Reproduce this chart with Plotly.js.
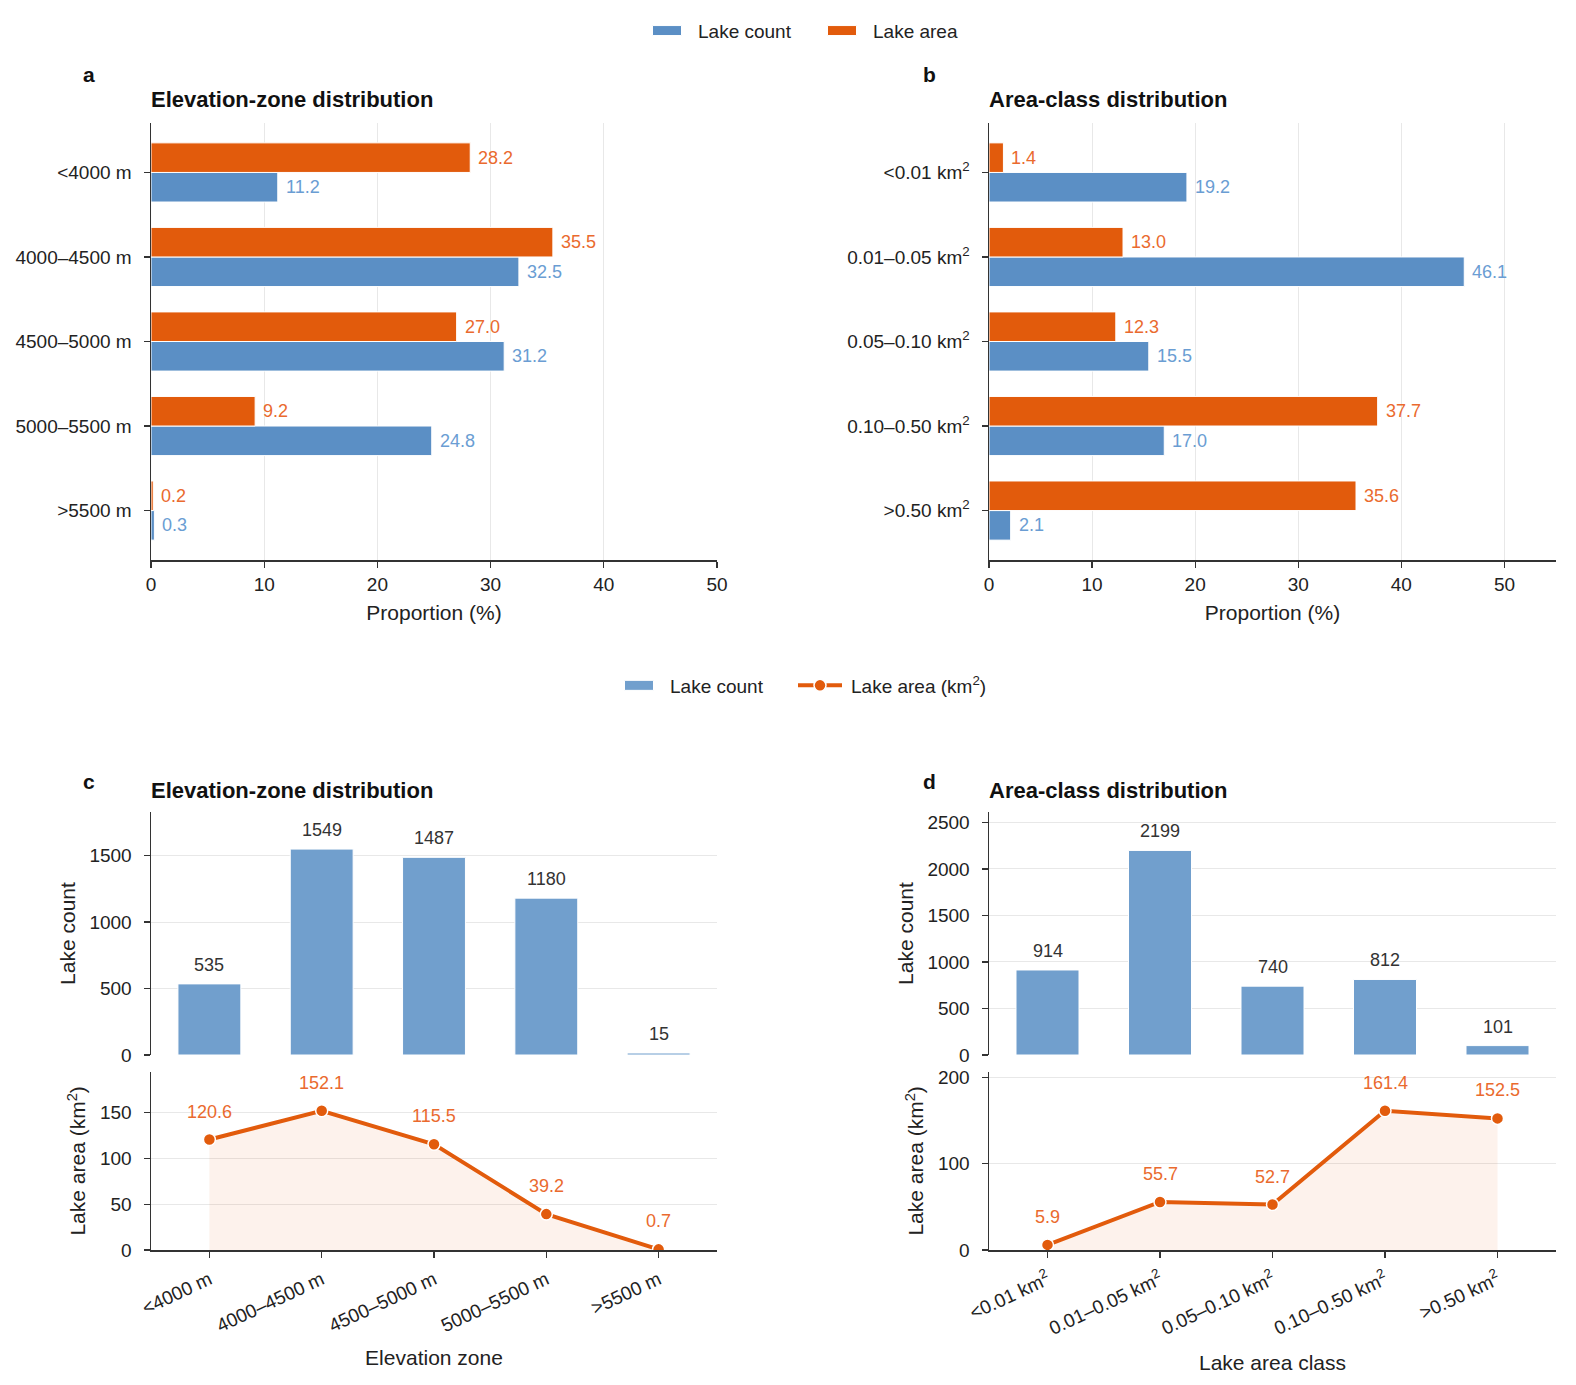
<!DOCTYPE html>
<html>
<head>
<meta charset="utf-8">
<script src="https://cdn.plot.ly/plotly-3.0.1.min.js"></script>
<style>html,body{margin:0;padding:0;background:#fff;}#chart{width:1576px;height:1385px;}</style>
</head>
<body>
<div id="chart"></div>
<script>
// ---- data ----
const elevZones = ['<4000 m', '4000–4500 m', '4500–5000 m', '5000–5500 m', '>5500 m'];
const areaClasses = ['<0.01 km<sup>2</sup>', '0.01–0.05 km<sup>2</sup>', '0.05–0.10 km<sup>2</sup>', '0.10–0.50 km<sup>2</sup>', '>0.50 km<sup>2</sup>'];
const elevCountPct = [11.2, 32.5, 31.2, 24.8, 0.3];
const elevAreaPct = [28.2, 35.5, 27.0, 9.2, 0.2];
const classCountPct = [19.2, 46.1, 15.5, 17.0, 2.1];
const classAreaPct = [1.4, 13.0, 12.3, 37.7, 35.6];
const elevCount = [535, 1549, 1487, 1180, 15];
const elevArea = [120.6, 152.1, 115.5, 39.2, 0.7];
const classCount = [914, 2199, 740, 812, 101];
const classArea = [5.9, 55.7, 52.7, 161.4, 152.5];
const pctTicks = [0, 10, 20, 30, 40, 50];

// ---- style ----
const BLUE = '#5b8fc5', BLUE2 = '#719fcd', ORANGE = '#e25b0c';
const BLUE_T = '#6a9dd3', ORANGE_T = '#ea6a2e';
const FONT = 'Liberation Sans, Arial, Helvetica, sans-serif';
const W = 1576, H = 1385;
const dx = (a, b) => [a / W, b / W];
const dy = (t, b) => [1 - b / H, 1 - t / H];

const baseAxis = {
  showline: true, linecolor: '#333', linewidth: 1.5, ticks: 'outside', ticklen: 6,
  tickcolor: '#333', tickwidth: 1.3, zeroline: false, gridcolor: '#e8e8e8', gridwidth: 1,
  tickfont: {size: 19, color: '#222', family: FONT}, ticklabelstandoff: 4
};
function ax(extra) { return Object.assign({}, baseAxis, extra); }

const traces = [];
// panel a
traces.push({type: 'bar', orientation: 'h', y: elevZones, x: elevCountPct, xaxis: 'x', yaxis: 'y',
  name: 'Lake count', marker: {color: BLUE, line: {color: '#fff', width: 1}}, width: 0.35, offset: 0,
  legend: 'legend', hoverinfo: 'x'});
traces.push({type: 'bar', orientation: 'h', y: elevZones, x: elevAreaPct, xaxis: 'x', yaxis: 'y',
  name: 'Lake area', marker: {color: ORANGE, line: {color: '#fff', width: 1}}, width: 0.35, offset: -0.35,
  legend: 'legend', hoverinfo: 'x'});
// panel b
traces.push({type: 'bar', orientation: 'h', y: areaClasses, x: classCountPct, xaxis: 'x2', yaxis: 'y2',
  showlegend: false, marker: {color: BLUE, line: {color: '#fff', width: 1}}, width: 0.35, offset: 0, hoverinfo: 'x'});
traces.push({type: 'bar', orientation: 'h', y: areaClasses, x: classAreaPct, xaxis: 'x2', yaxis: 'y2',
  showlegend: false, marker: {color: ORANGE, line: {color: '#fff', width: 1}}, width: 0.35, offset: -0.35, hoverinfo: 'x'});
// panel c
traces.push({type: 'bar', x: elevZones, y: elevCount, xaxis: 'x3', yaxis: 'y3', name: 'Lake count',
  marker: {color: BLUE2, line: {color: '#fff', width: 1}}, width: 0.56, legend: 'legend2'});
traces.push({type: 'scatter', mode: 'none', x: elevZones, y: elevArea, xaxis: 'x4', yaxis: 'y4',
  fill: 'tozeroy', fillcolor: 'rgba(226,91,12,0.08)', showlegend: false, hoverinfo: 'skip'});
traces.push({type: 'scatter', mode: 'lines+markers', x: elevZones, y: elevArea, xaxis: 'x4', yaxis: 'y4',
  name: 'Lake area (km<sup>2</sup>)', line: {color: ORANGE, width: 4},
  marker: {color: ORANGE, size: 12, line: {color: '#fff', width: 1.5}}, legend: 'legend3'});
// panel d
traces.push({type: 'bar', x: areaClasses, y: classCount, xaxis: 'x5', yaxis: 'y5', showlegend: false,
  marker: {color: BLUE2, line: {color: '#fff', width: 1}}, width: 0.56});
traces.push({type: 'scatter', mode: 'none', x: areaClasses, y: classArea, xaxis: 'x6', yaxis: 'y6',
  fill: 'tozeroy', fillcolor: 'rgba(226,91,12,0.08)', showlegend: false, hoverinfo: 'skip'});
traces.push({type: 'scatter', mode: 'lines+markers', x: areaClasses, y: classArea, xaxis: 'x6', yaxis: 'y6',
  showlegend: false, line: {color: ORANGE, width: 4},
  marker: {color: ORANGE, size: 12, line: {color: '#fff', width: 1.5}}});

const ann = [];
function hLabels(vals, xref, yref, off, color) {
  vals.forEach((v, i) => ann.push({xref: xref, yref: yref, x: v, y: i + off, text: v.toFixed(1),
    showarrow: false, xanchor: 'left', yanchor: 'middle', xshift: 6, font: {size: 18, color: color, family: FONT}}));
}
hLabels(elevCountPct, 'x', 'y', 0.175, BLUE_T);
hLabels(elevAreaPct, 'x', 'y', -0.175, ORANGE_T);
hLabels(classCountPct, 'x2', 'y2', 0.175, BLUE_T);
hLabels(classAreaPct, 'x2', 'y2', -0.175, ORANGE_T);
function vLabels(vals, xref, yref, shift, color, fmt) {
  vals.forEach((v, i) => ann.push({xref: xref, yref: yref, x: i, y: v, text: fmt(v),
    showarrow: false, xanchor: 'center', yanchor: 'middle', yshift: shift, font: {size: 18, color: color, family: FONT}}));
}
vLabels(elevCount, 'x3', 'y3', 19, '#333', v => String(v));
vLabels(classCount, 'x5', 'y5', 19, '#333', v => String(v));
vLabels(elevArea, 'x4', 'y4', 28, ORANGE_T, v => v.toFixed(1));
vLabels(classArea, 'x6', 'y6', 28, ORANGE_T, v => v.toFixed(1));

function paperText(x, y, text, anchor, size) {
  ann.push({xref: 'paper', yref: 'paper', x: x / W, y: 1 - y / H, text: text, showarrow: false,
    xanchor: anchor, yanchor: 'middle', font: {size: size, color: '#111', family: FONT}});
}
paperText(88.6, 75, '<b>a</b>', 'center', 21);
paperText(929, 75, '<b>b</b>', 'center', 21);
paperText(88.6, 781, '<b>c</b>', 'center', 21);
paperText(929, 781, '<b>d</b>', 'center', 21);
paperText(149, 99.5, '<b>Elevation-zone distribution</b>', 'left', 22);
paperText(987, 99.5, '<b>Area-class distribution</b>', 'left', 22);
paperText(149, 790, '<b>Elevation-zone distribution</b>', 'left', 22);
paperText(987, 790, '<b>Area-class distribution</b>', 'left', 22);

const titleFont = {size: 21, color: '#222', family: FONT};
const catRangeH = [4.585, -0.585];
const catRangeV = [-0.52, 4.52];
const legendFont = {size: 19, family: FONT, color: '#222'};

const layout = {
  width: W, height: H, margin: {l: 0, r: 0, t: 0, b: 0}, paper_bgcolor: '#fff', plot_bgcolor: 'rgba(0,0,0,0)',
  font: {family: FONT, color: '#222'}, barmode: 'overlay', showlegend: true,
  legend: {orientation: 'h', x: 636 / W, xanchor: 'left', y: 1 - 30.7 / H, yanchor: 'middle',
    itemwidth: 52, entrywidth: 108, entrywidthmode: 'pixels', font: legendFont, bgcolor: 'rgba(0,0,0,0)'},
  legend2: {orientation: 'h', x: 608 / W, xanchor: 'left', y: 1 - 685.5 / H, yanchor: 'middle',
    itemwidth: 52, font: legendFont, bgcolor: 'rgba(0,0,0,0)'},
  legend3: {orientation: 'h', x: 789 / W, xanchor: 'left', y: 1 - 685.5 / H, yanchor: 'middle',
    itemwidth: 52, font: legendFont, bgcolor: 'rgba(0,0,0,0)'},
  xaxis: ax({domain: dx(151, 717), range: [0, 50], anchor: 'y', tickvals: pctTicks, showgrid: true,
    ticklabelstandoff: 1, title: {text: 'Proportion (%)', font: titleFont, standoff: 11}}),
  yaxis: ax({domain: dy(123, 560), type: 'category', range: catRangeH, anchor: 'x', showgrid: false, ticklabelstandoff: 8}),
  xaxis2: ax({domain: dx(989, 1556), range: [0, 55], anchor: 'y2', tickvals: pctTicks, showgrid: true,
    ticklabelstandoff: 1, title: {text: 'Proportion (%)', font: titleFont, standoff: 11}}),
  yaxis2: ax({domain: dy(123, 560), type: 'category', range: catRangeH, anchor: 'x2', showgrid: false, ticklabelstandoff: 8}),
  xaxis3: ax({domain: dx(151, 717), type: 'category', range: catRangeV, anchor: 'y3', showline: false, ticks: '',
    showticklabels: false, showgrid: false, matches: 'x4'}),
  yaxis3: ax({domain: dy(812, 1055), range: [0, 1828], anchor: 'x3', tickvals: [0, 500, 1000, 1500], showgrid: true,
    ticklabelstandoff: 8, title: {text: 'Lake count', font: titleFont, standoff: 8}}),
  xaxis4: ax({domain: dx(151, 717), type: 'category', range: catRangeV, anchor: 'y4', showgrid: false, tickangle: -25,
    ticklabelstandoff: 4, title: {text: 'Elevation zone', font: titleFont, standoff: 15}}),
  yaxis4: ax({domain: dy(1071.7, 1250), range: [0, 194.7], anchor: 'x4', tickvals: [0, 50, 100, 150], showgrid: true,
    ticklabelstandoff: 8, title: {text: 'Lake area (km<sup>2</sup>)', font: titleFont, standoff: 8}}),
  xaxis5: ax({domain: dx(989, 1556), type: 'category', range: catRangeV, anchor: 'y5', showline: false, ticks: '',
    showticklabels: false, showgrid: false, matches: 'x6'}),
  yaxis5: ax({domain: dy(812, 1055), range: [0, 2612], anchor: 'x5', tickvals: [0, 500, 1000, 1500, 2000, 2500], showgrid: true,
    ticklabelstandoff: 8, title: {text: 'Lake count', font: titleFont, standoff: 8}}),
  xaxis6: ax({domain: dx(989, 1556), type: 'category', range: catRangeV, anchor: 'y6', showgrid: false, tickangle: -25,
    ticklabelstandoff: 4, title: {text: 'Lake area class', font: titleFont, standoff: 17}}),
  yaxis6: ax({domain: dy(1071.7, 1250), range: [0, 206.6], anchor: 'x6', tickvals: [0, 100, 200], showgrid: true,
    ticklabelstandoff: 8, title: {text: 'Lake area (km<sup>2</sup>)', font: titleFont, standoff: 8}}),
  annotations: ann
};

// reshape legend swatches: flat rectangles for bars, a 40px segment for the line
function fixLegend(gd) {
  gd.querySelectorAll('g.legendpoints path').forEach(p => {
    const d = (p.getAttribute('d') || '').replace(/\s/g, '');
    if (d === 'M6,6H-6V-6H6Z') p.setAttribute('d', 'M14.5,5H-14.5V-5H14.5Z');
  });
  gd.querySelectorAll('g.legendlines path').forEach(p => {
    if (p.dataset.fixed) return;
    const m = (p.getAttribute('d') || '').replace(/\s/g, '').match(/^M(-?[\d.]+),(-?[\d.]+)h(-?[\d.]+)$/);
    if (m) {
      const x0 = +m[1], y0 = +m[2], len = +m[3];
      p.setAttribute('d', 'M' + (x0 + 4) + ',' + y0 + 'h' + (len - 8));
      p.dataset.fixed = '1';
    }
  });
}

Plotly.newPlot('chart', traces, layout, {displayModeBar: false, staticPlot: true}).then(gd => {
  fixLegend(gd);
  gd.on('plotly_afterplot', () => fixLegend(gd));
  setTimeout(() => fixLegend(gd), 50);
});
</script>
</body>
</html>
